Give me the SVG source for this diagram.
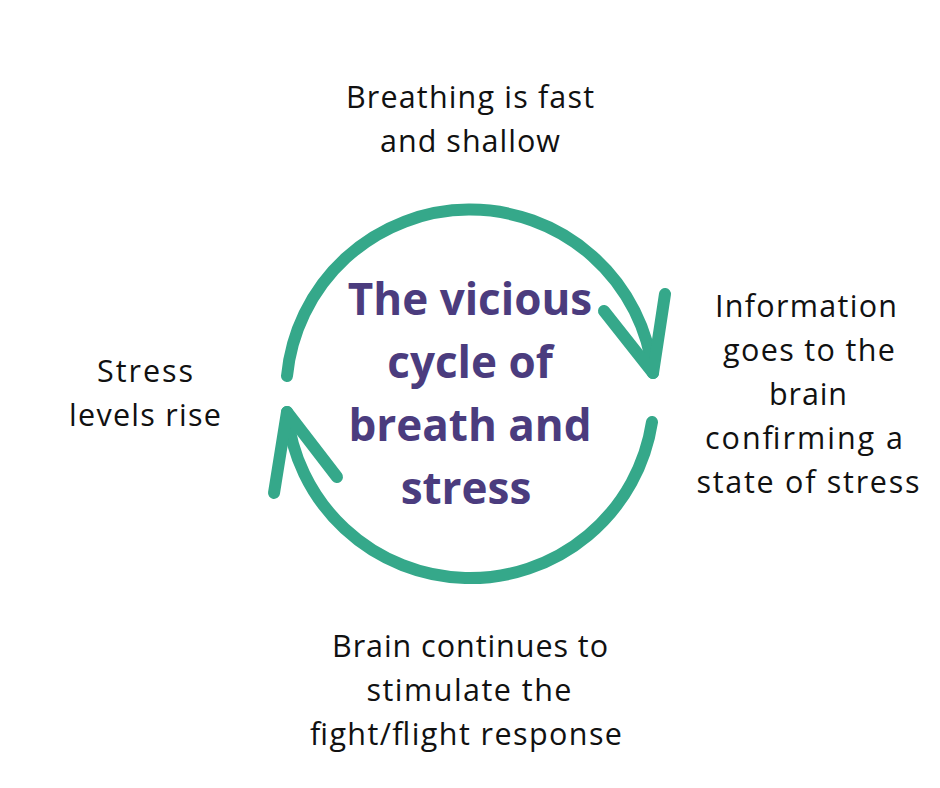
<svg xmlns="http://www.w3.org/2000/svg" width="940" height="788" viewBox="0 0 940 788">
<style>
.lbl{font-family:"Open Sans","Liberation Sans",sans-serif;font-size:30.5px;fill:#111;text-anchor:middle}
.ttl{font-family:"Open Sans","Liberation Sans",sans-serif;font-size:44px;font-weight:bold;fill:#4b3c7e;text-anchor:middle}
.arr{fill:none;stroke:#35a88a;stroke-width:12;stroke-linecap:round;stroke-linejoin:round}
</style>
<rect width="940" height="788" fill="#ffffff"/>
<g id="connectors">
<path class="arr" d="M287,376 A184,184 0 0 1 653,373"/>
<path class="arr" d="M604,311 L653,373 L665,294"/>
<path class="arr" d="M652,422 A184,184 0 0 1 287,412"/>
<path class="arr" d="M337,477 L287,412 L274,493"/>
</g>
<g id="center">
<text class="ttl" x="470" y="315">The vicious</text>
<text class="ttl" x="470" y="378">cycle of</text>
<text class="ttl" x="470" y="441">breath and</text>
<text class="ttl" x="466" y="504">stress</text>
</g>
<g id="top">
<text class="lbl" x="470" y="108" textLength="248" lengthAdjust="spacing">Breathing is fast</text>
<text class="lbl" x="470" y="152" textLength="180" lengthAdjust="spacing">and shallow</text>
</g>
<g id="right">
<text class="lbl" x="806" y="317" textLength="182" lengthAdjust="spacing">Information</text>
<text class="lbl" x="809" y="361" textLength="172" lengthAdjust="spacing">goes to the</text>
<text class="lbl" x="808" y="405" textLength="78" lengthAdjust="spacing">brain</text>
<text class="lbl" x="804" y="449" textLength="198" lengthAdjust="spacing">confirming a</text>
<text class="lbl" x="808" y="493" textLength="223" lengthAdjust="spacing">state of stress</text>
</g>
<g id="bottom">
<text class="lbl" x="470" y="657" textLength="276" lengthAdjust="spacing">Brain continues to</text>
<text class="lbl" x="469" y="701" textLength="205" lengthAdjust="spacing">stimulate the</text>
<text class="lbl" x="466" y="745" textLength="312" lengthAdjust="spacing">fight/flight response</text>
</g>
<g id="left">
<text class="lbl" x="145" y="382" textLength="96" lengthAdjust="spacing">Stress</text>
<text class="lbl" x="145" y="426" textLength="152" lengthAdjust="spacing">levels rise</text>
</g>
</svg>
